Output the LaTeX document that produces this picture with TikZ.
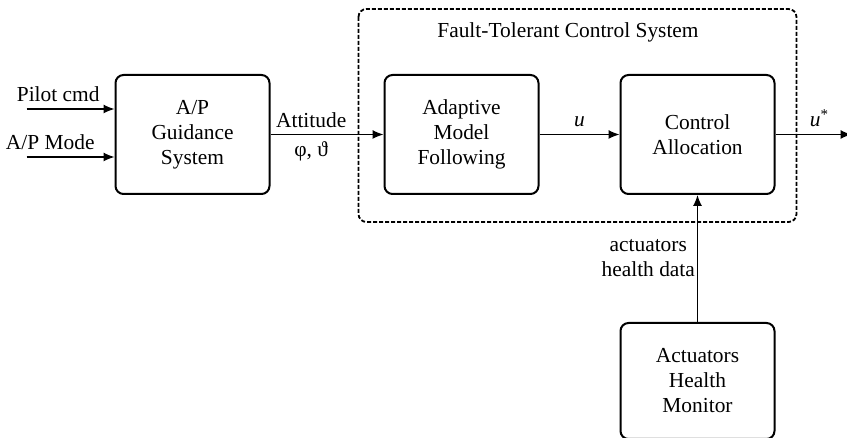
\documentclass[tikz,border=0pt]{standalone}
\usepackage{fontspec}
\setmainfont{Liberation Serif}
\usepackage{tikz}
\usetikzlibrary{positioning,arrows.meta}

\begin{document}
\begin{tikzpicture}[
  font=\fontsize{10.7}{12.5}\selectfont,
  blk/.style={draw, line width=1pt, rounded corners=4pt, align=center,
    minimum width=77pt, minimum height=59.5pt, inner sep=2pt},
  sig/.style={line width=0.6pt, -{Latex[length=5.5pt,width=4.5pt]}},
  ftcs/.style={draw, line width=0.9pt, dash pattern=on 2pt off 1pt, rounded corners=4pt}]
  \useasboundingbox (0,0) rectangle (423.5pt,219pt);
  \node[blk] (guid) at (96.25pt,151.75pt) {A/P\\Guidance\\System};
  \node[blk, right=56.5pt of guid] (amf) {Adaptive\\Model\\Following};
  \node[blk, right=40pt of amf] (alloc) {Control\\Allocation};
  \node[blk, below=63.5pt of alloc, minimum height=58pt] (ahm) {Actuators\\Health\\Monitor};
  \coordinate (pilot) at ([xshift=-44pt,yshift=12.75pt]guid.west);
  \coordinate (mode) at ([xshift=-44pt,yshift=-11.25pt]guid.west);
  \coordinate (uout) at ([xshift=38pt]alloc.east);
  \draw[ftcs] ([xshift=-12.5pt,yshift=32.5pt]amf.north west) rectangle ([xshift=10.5pt,yshift=-13.5pt]alloc.south east);
  \node (ftcslabel) at (284pt,203pt) {Fault-Tolerant Control System};
  \path[sig]
  (pilot) edge node [above, pos=0.36] {Pilot cmd} (pilot -| guid.west)
  (mode) edge node [above, pos=0.27] {A/P Mode} (mode -| guid.west)
  (guid) edge node [above, pos=0.36] {Attitude} node [below, pos=0.36] {φ, ϑ} (amf)
  (amf) edge node [above] {\textit{u}} (alloc)
  (alloc) edge node [above, pos=0.58] {\textit{u}\textsuperscript{*}} (uout)
  (ahm) edge node [left, align=center, inner sep=1pt] {actuators\\health data} (alloc);
\end{tikzpicture}
\end{document}
